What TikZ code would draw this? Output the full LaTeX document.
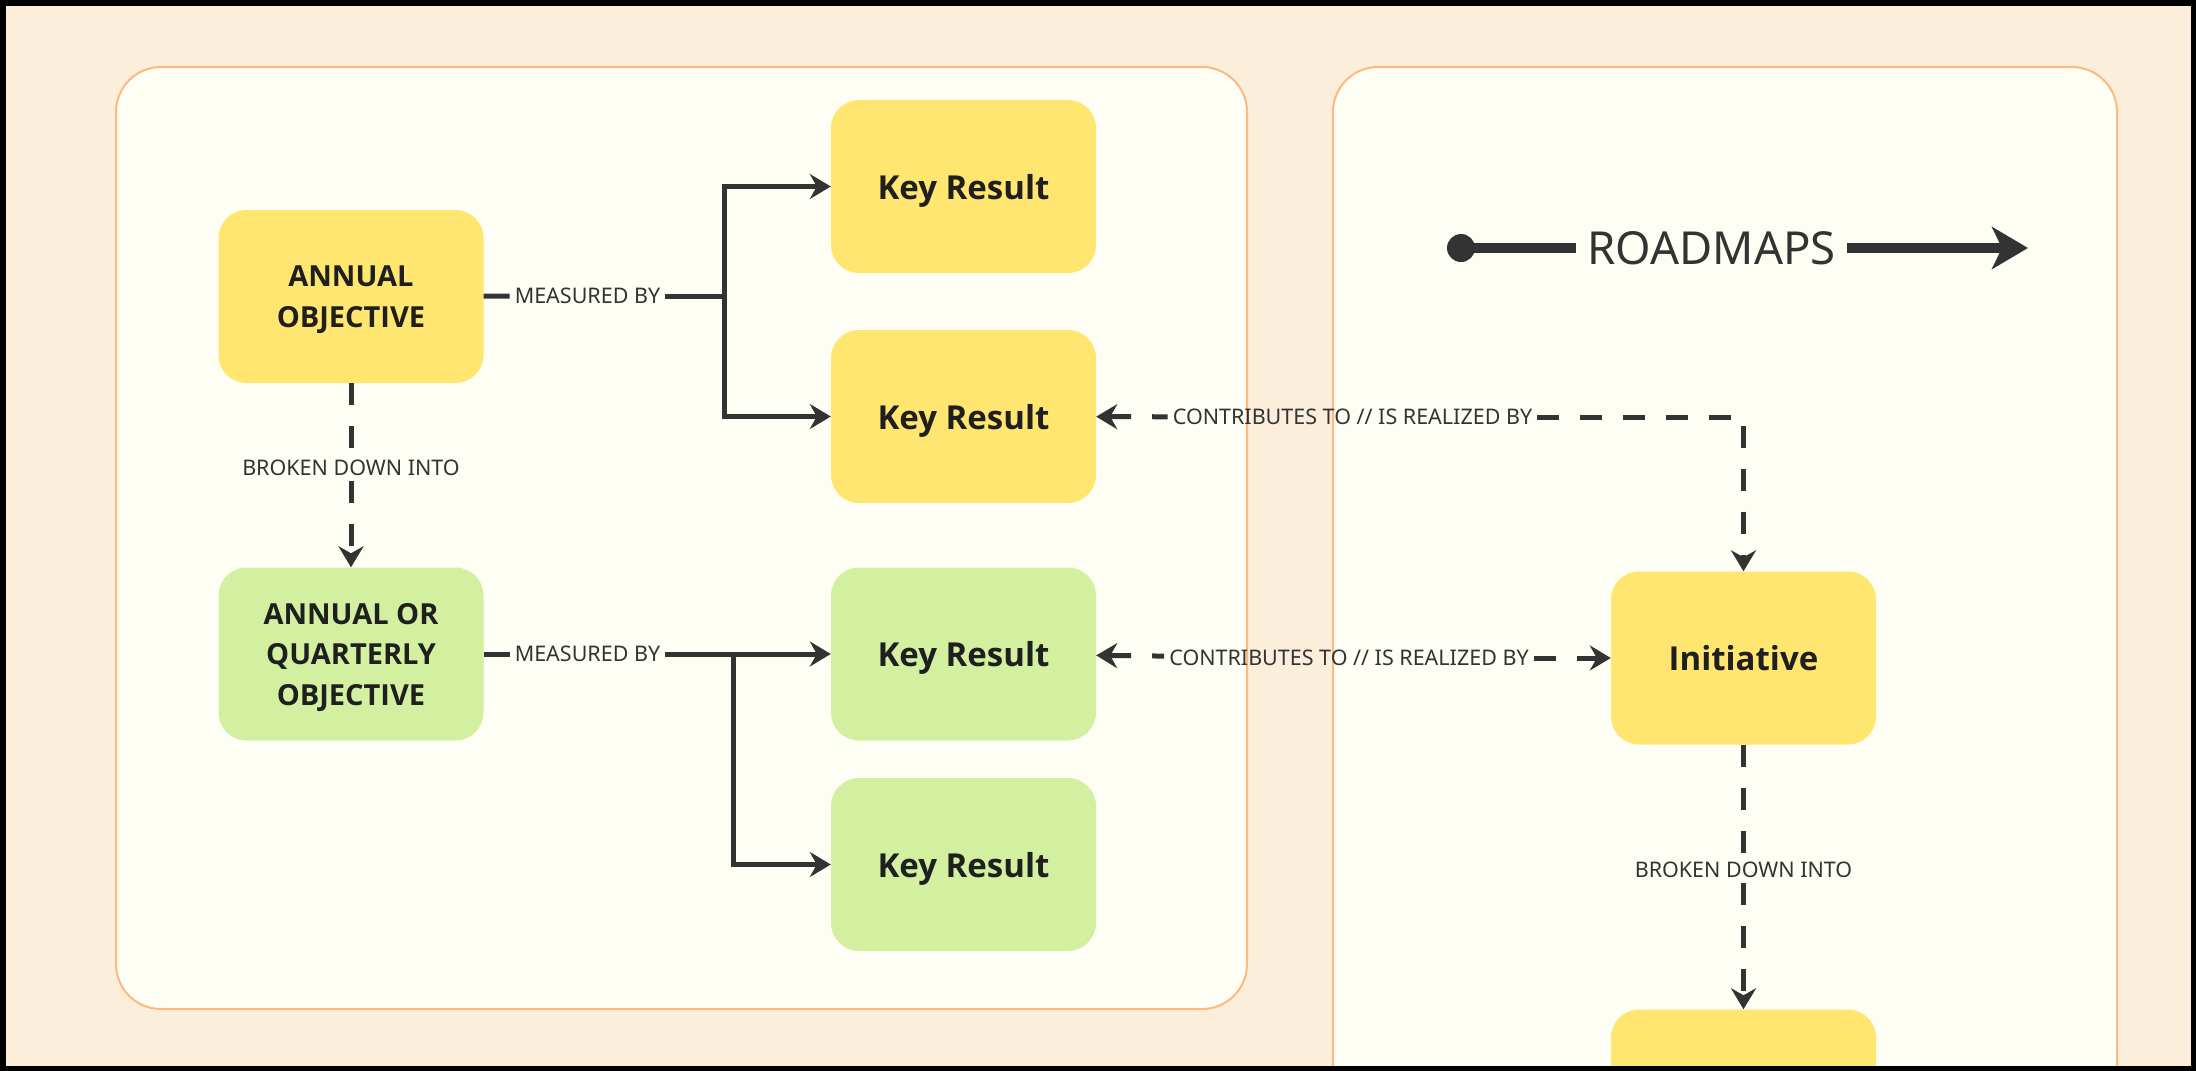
\documentclass[tikz,border=0pt]{standalone}
\usepackage{fontspec}
\setmainfont{Noto Sans}[BoldFont={Open Sans Bold}]
\usetikzlibrary{arrows.meta}
\definecolor{paper}{HTML}{FBEEDB}
\definecolor{panel}{HTML}{FFFEF5}
\definecolor{rim}{HTML}{FDBA80}
\definecolor{okryellow}{HTML}{FFE670}
\definecolor{okrgreen}{HTML}{D2F0A0}
\definecolor{ink}{HTML}{333333}
\definecolor{boxtext}{HTML}{1F1F1F}
\begin{document}
\begin{tikzpicture}[x=1pt,y=-1pt,
		>={Stealth[length=21pt,width=25pt,inset=7pt]},
		box/.style={rounded corners=28pt,minimum width=265pt,minimum height=173pt,align=center,
			text depth=0pt,text=boxtext,font=\bfseries\fontsize{29}{40.5}\selectfont},
		kr/.style={box,font=\bfseries\fontsize{33}{40}\selectfont},
		lbl/.style={text=ink,font=\fontsize{21.5}{26}\selectfont,inner sep=5pt},
		link/.style={draw=ink,line width=5pt},
		dlink/.style={link,dash pattern=on 22pt off 21pt},
		frame/.style={draw=rim,line width=2pt,fill=panel,rounded corners=45pt}]
		\useasboundingbox (0,0) rectangle (2196,1071);
		\clip (0,0) rectangle (2196,1071);
		\fill [paper] (0,0) rectangle (2196,1071);
		% the two panels
		\path [frame] (116,67) rectangle (1247,1009);
		\path [frame] (1333,67) rectangle (2117,1140);

		% objectives and key results
		\node [box,fill=okryellow] (ao) at (351,296.5) {ANNUAL\\OBJECTIVE};
		\node [box,fill=okrgreen] (aq) at (351,654) {ANNUAL OR\\QUARTERLY\\OBJECTIVE};
		\node [kr,fill=okryellow] (kr1) at (963.5,186.5) {Key Result};
		\node [kr,fill=okryellow] (kr2) at (963.5,416.5) {Key Result};
		\node [kr,fill=okrgreen] (kr3) at (963.5,654) {Key Result};
		\node [kr,fill=okrgreen] (kr4) at (963.5,864.5) {Key Result};
		\node [kr,fill=okryellow] (init) at (1743.5,658) {Initiative};
		\node [kr,fill=okryellow] (next) at (1743.5,1096) {};

		% labels
		\path
		(587.5,296) node [lbl] (m1) {MEASURED BY}
		(587.5,654) node [lbl] (m2) {MEASURED BY}
		(351,468) node [lbl] (bd1) {BROKEN DOWN INTO}
		(1743.5,870) node [lbl] (bd2) {BROKEN DOWN INTO}
		(1352.5,417) node [lbl] (c1) {CONTRIBUTES TO // IS REALIZED BY}
		(1349,658) node [lbl] (c2) {CONTRIBUTES TO // IS REALIZED BY};
		\coordinate (b1) at (724,296);
		\coordinate (b2) at (733,654);

		% measured by
		\draw [link] (ao) -- (m1);
		\draw [link] (m1) -- (b1);
		\draw [link,->] (b1) |- (kr1);
		\draw [link,->] (b1) |- (kr2);
		\draw [link] (aq) -- (m2);
		\draw [link,->] (m2) -- (kr3);
		\draw [link,->] (b2) |- (kr4);

		% broken down into
		\draw [dlink] (ao) -- (bd1);
		\draw [dlink,->] (bd1) -- (aq);
		\draw [dlink] (init) -- (bd2);
		\draw [dlink,->] (bd2) -- (next);

		% contributes to // is realized by
		\draw [dlink,<-] (kr2) -- (c1);
		\draw [dlink,->] (c1) -| (init);
		\draw [dlink,<-] (kr3) -- (c2);
		\draw [dlink,->] (c2) -- (init);

		% roadmaps
		\coordinate (rstart) at (1461,248);
		\coordinate (rend) at (2028,248);
		\node [text=ink,font=\fontsize{45.5}{50}\selectfont,inner xsep=11pt] (road) at (1711.5,248) {ROADMAPS};
		\fill [ink] (rstart) circle (14);
		\draw [ink,line width=10pt] (rstart) -- (road);
		\draw [ink,line width=10pt,-{Stealth[length=36pt,width=42pt,inset=10pt]}] (road) -- (rend);

		\draw [line width=11pt] (0,0) rectangle (2196,1071);
\end{tikzpicture}
\end{document}
